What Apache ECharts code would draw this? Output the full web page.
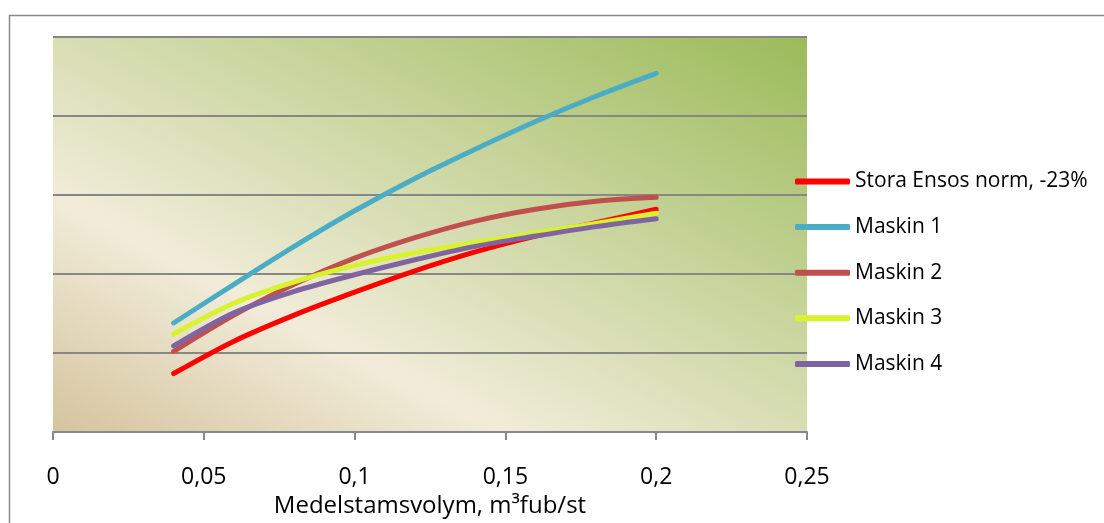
<!DOCTYPE html>
<html>
<head>
<meta charset="utf-8">
<script src="https://cdn.jsdelivr.net/npm/echarts@6/dist/echarts.min.js"></script>
<style>
  html, body { margin: 0; padding: 0; background: #ffffff; }
  #chart { width: 1104px; height: 523px; }
</style>
</head>
<body>
<div id="chart"></div>
<script>
// Medelstamsvolym (m3fub/st) sampled every 0.02
const volumes = [0.04, 0.06, 0.08, 0.10, 0.12, 0.14, 0.16, 0.18, 0.20];

const seriesNames = ['Stora Ensos norm, -23%', 'Maskin 1', 'Maskin 2', 'Maskin 3', 'Maskin 4'];

const storaEnso = [0.74, 1.15, 1.48, 1.77, 2.04, 2.28, 2.48, 2.65, 2.82];
const maskin1   = [1.38, 1.87, 2.35, 2.80, 3.21, 3.58, 3.93, 4.25, 4.54];
const maskin2   = [1.02, 1.48, 1.87, 2.20, 2.46, 2.67, 2.82, 2.92, 2.97];
const maskin3   = [1.24, 1.63, 1.90, 2.11, 2.27, 2.40, 2.52, 2.64, 2.77];
const maskin4   = [1.09, 1.51, 1.78, 1.99, 2.18, 2.35, 2.48, 2.60, 2.70];

const xTicks = [0, 0.05, 0.1, 0.15, 0.2, 0.25];

const seriesColors = ['#ff0000', '#4bacc6', '#c0504d', '#d9f22e', '#8064a2'];

const chart = echarts.init(document.getElementById('chart'));

// plot area corners in pixels (used for the diagonal fill)
const plot = { left: 53, top: 37, right: 807, bottom: 432 };
const dx = plot.right - plot.left, dy = plot.bottom - plot.top;
const k = (2 * dx * dy) / (dx * dx + dy * dy);
const plotFill = new echarts.graphic.LinearGradient(
  plot.left, plot.bottom,
  plot.left + dy * k, plot.bottom - dx * k,
  [
    { offset: 0, color: '#d5c49e' },
    { offset: 0.3, color: '#f1ecd9' },
    { offset: 1, color: '#9bbb59' }
  ],
  true
);

const pairs = (ys) => volumes.map((x, i) => [x, ys[i]]);
const allValues = [storaEnso, maskin1, maskin2, maskin3, maskin4];

const font = '"Open Sans", sans-serif';

chart.setOption({
  animation: false,
  backgroundColor: '#ffffff',
  graphic: [{
    type: 'rect',
    z: -10,
    shape: { x: 9.5, y: 15.5, width: 1200, height: 600 },
    style: { fill: 'none', stroke: '#8a8a8a', lineWidth: 1.5 }
  }],
  grid: {
    left: plot.left, top: plot.top,
    right: 1104 - plot.right, bottom: 523 - plot.bottom,
    show: true,
    backgroundColor: plotFill,
    borderWidth: 0
  },
  legend: {
    orient: 'vertical',
    left: 790,
    top: 166,
    itemWidth: 55,
    itemHeight: 6,
    itemGap: 24.6,
    icon: 'roundRect',
    data: seriesNames,
    textStyle: { fontFamily: font, fontSize: 21, color: '#000000', lineHeight: 21 }
  },
  xAxis: {
    type: 'value',
    min: 0, max: 0.25, interval: 0.05,
    name: 'Medelstamsvolym, m³fub/st',
    nameLocation: 'middle',
    nameGap: 53,
    nameTextStyle: { fontFamily: font, fontSize: 24, color: '#000000' },
    axisLine: { show: true, lineStyle: { color: '#888888', width: 2 } },
    axisTick: { show: true, length: 8, lineStyle: { color: '#888888', width: 2 } },
    axisLabel: {
      margin: 34,
      fontFamily: font, fontSize: 23, color: '#000000',
      formatter: (v) => {
        const t = xTicks.find(x => Math.abs(x - v) < 1e-9);
        return String(t !== undefined ? t : v).replace('.', ',');
      }
    },
    splitLine: { show: false }
  },
  yAxis: {
    type: 'value',
    min: 0, max: 5, interval: 1,
    axisLine: { show: false },
    axisTick: { show: false },
    axisLabel: { show: false },
    splitLine: { show: true, lineStyle: { color: '#878787', width: 2 } }
  },
  series: seriesNames.map((name, i) => ({
    name,
    type: 'line',
    data: pairs(allValues[i]),
    smooth: 0.3,
    showSymbol: false,
    symbol: 'none',
    color: seriesColors[i],
    lineStyle: { width: 5, color: seriesColors[i], cap: 'round', join: 'round' }
  }))
});
</script>
</body>
</html>
